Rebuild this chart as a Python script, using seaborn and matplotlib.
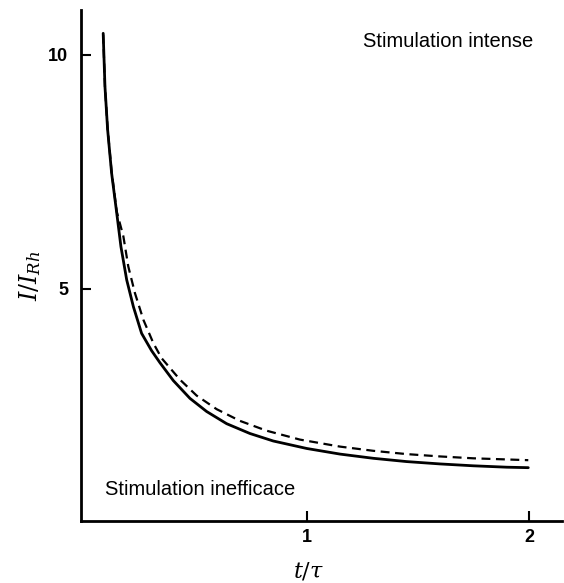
import matplotlib
matplotlib.use("Agg")
import matplotlib.pyplot as plt
import seaborn as sns
import pandas as pd

# Data (t/tau, I/I_Rh)
t_solid = [0.082, 0.090, 0.102, 0.120, 0.143, 0.162, 0.188, 0.218, 0.255, 0.300,
           0.338, 0.398, 0.473, 0.548, 0.638, 0.743, 0.848, 0.999, 1.149, 1.299,
           1.449, 1.599, 1.749, 1.900, 1.997]
i_solid = [10.46, 9.32, 8.40, 7.47, 6.62, 5.90, 5.19, 4.62, 4.05, 3.68,
           3.42, 3.04, 2.66, 2.38, 2.12, 1.91, 1.75, 1.59, 1.47, 1.38,
           1.31, 1.26, 1.22, 1.19, 1.18]
t_dash = [0.082, 0.090, 0.102, 0.120, 0.143, 0.173, 0.195, 0.225, 0.263, 0.308,
          0.345, 0.428, 0.503, 0.593, 0.698, 0.818, 0.968, 1.149, 1.299, 1.449,
          1.599, 1.749, 1.997]
i_dash = [10.43, 9.32, 8.42, 7.50, 6.65, 6.12, 5.48, 4.91, 4.34, 3.84,
          3.52, 3.06, 2.72, 2.43, 2.18, 1.97, 1.78, 1.63, 1.54, 1.47,
          1.42, 1.38, 1.34]
xticks = [1, 2]
yticks = [5, 10]
label_top = "Stimulation intense"
label_bottom = "Stimulation inefficace"

sns.set_style("ticks")
plt.rcParams['font.family'] = ['Liberation Sans', 'DejaVu Sans']
plt.rcParams['mathtext.fontset'] = 'dejavuserif'
plt.rcParams['text.color'] = 'black'
plt.rcParams['axes.labelcolor'] = 'black'
plt.rcParams['xtick.color'] = 'black'
plt.rcParams['ytick.color'] = 'black'
plt.rcParams['axes.edgecolor'] = 'black'

df_s = pd.DataFrame({"t": t_solid, "I": i_solid})
df_d = pd.DataFrame({"t": t_dash, "I": i_dash})

fig = plt.figure(figsize=(5.64, 5.83), dpi=100)
ax = fig.add_axes([0.1436, 0.1063, 0.8529, 0.8767])

sns.lineplot(data=df_s, x="t", y="I", ax=ax, color="black", lw=2.0, sort=True)
sns.lineplot(data=df_d, x="t", y="I", ax=ax, color="black", lw=1.6, sort=True,
             linestyle=(0, (4, 2.5)))

ax.set_xlim(-0.018, 2.149)
ax.set_ylim(0.04, 10.96)
ax.set_xticks(xticks)
ax.set_yticks(yticks)
ax.set_xticklabels([str(v) for v in xticks], fontweight='bold', fontsize=13)
ax.set_yticklabels([str(v) for v in yticks], fontweight='bold', fontsize=13)
ax.tick_params(axis='both', direction='in', length=7, width=1.5, pad=6)
ax.tick_params(axis='y', pad=9)
for s in ['top', 'right']:
    ax.spines[s].set_visible(False)
for s in ['left', 'bottom']:
    ax.spines[s].set_linewidth(2.0)

ax.set_xlabel(r"$t/\tau$", fontsize=16)
ax.set_ylabel(r"$I/I_{Rh}$", fontsize=17)
ax.xaxis.set_label_coords(0.472, -0.078)
ax.yaxis.set_label_coords(-0.08, 0.479)

ax.text(1.252, 10.28, label_top, fontsize=14.5, ha='left', va='center')
ax.text(0.09, 0.705, label_bottom, fontsize=14.5, ha='left', va='center')

fig.savefig("out.png", dpi=100)
